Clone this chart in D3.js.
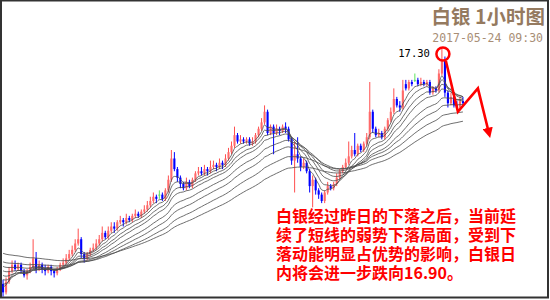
<!DOCTYPE html>
<html>
<head>
<meta charset="utf-8">
<script src="https://cdn.jsdelivr.net/npm/d3@7"></script>
<style>
  body { margin: 0; background: #fff; }
  svg { display: block; }
</style>
</head>
<body>
<svg id="chart"></svg>
<script>
const width = 550
const height = 300

// hourly silver bars, [open, high, low, close]
const bars = [
  [16.19,16.21,16.13,16.15],[16.15,16.22,16.14,16.20],[16.20,16.27,16.19,16.25],[16.25,16.30,16.24,16.28],
  [16.28,16.30,16.25,16.26],[16.26,16.29,16.25,16.28],[16.28,16.29,16.24,16.25],[16.25,16.26,16.22,16.23],
  [16.23,16.26,16.21,16.25],[16.25,16.29,16.24,16.27],[16.27,16.40,16.26,16.31],[16.31,16.34,16.24,16.26],
  [16.26,16.30,16.25,16.28],[16.28,16.29,16.24,16.26],[16.26,16.28,16.23,16.25],[16.25,16.28,16.24,16.27],
  [16.27,16.28,16.23,16.25],[16.25,16.26,16.22,16.24],[16.24,16.27,16.23,16.26],[16.26,16.29,16.25,16.28],
  [16.28,16.31,16.27,16.29],[16.29,16.33,16.28,16.31],[16.31,16.35,16.30,16.33],[16.33,16.37,16.32,16.35],
  [16.35,16.40,16.34,16.38],[16.38,16.45,16.37,16.40],[16.40,16.41,16.31,16.33],[16.33,16.34,16.29,16.31],
  [16.31,16.34,16.30,16.33],[16.33,16.36,16.32,16.35],[16.35,16.38,16.34,16.36],[16.36,16.40,16.35,16.38],
  [16.38,16.42,16.37,16.40],[16.40,16.46,16.39,16.43],[16.43,16.44,16.40,16.41],[16.41,16.46,16.40,16.44],
  [16.44,16.48,16.43,16.46],[16.46,16.48,16.43,16.45],[16.45,16.49,16.44,16.48],[16.48,16.51,16.47,16.49],
  [16.49,16.50,16.46,16.48],[16.48,16.52,16.47,16.50],[16.50,16.51,16.48,16.49],[16.49,16.52,16.48,16.51],
  [16.51,16.54,16.50,16.52],[16.52,16.53,16.50,16.51],[16.51,16.54,16.50,16.53],[16.53,16.56,16.52,16.54],
  [16.54,16.58,16.53,16.56],[16.56,16.60,16.55,16.58],[16.58,16.62,16.57,16.60],[16.60,16.61,16.57,16.59],
  [16.61,16.63,16.59,16.61],[16.61,16.62,16.58,16.59],[16.59,16.64,16.58,16.63],[16.63,16.70,16.62,16.68],
  [16.68,16.82,16.67,16.78],[16.78,16.81,16.72,16.73],[16.73,16.74,16.67,16.69],[16.69,16.70,16.64,16.66],
  [16.66,16.67,16.63,16.64],[16.64,16.69,16.63,16.67],[16.67,16.68,16.64,16.65],[16.65,16.69,16.64,16.68],
  [16.68,16.72,16.67,16.71],[16.71,16.74,16.70,16.72],[16.72,16.74,16.70,16.71],[16.71,16.75,16.70,16.73],
  [16.73,16.74,16.70,16.72],[16.72,16.77,16.71,16.74],[16.74,16.77,16.73,16.75],[16.75,16.76,16.72,16.74],
  [16.74,16.78,16.73,16.76],[16.76,16.77,16.73,16.75],[16.75,16.80,16.74,16.78],[16.78,16.83,16.77,16.81],
  [16.81,16.86,16.80,16.84],[16.84,16.93,16.83,16.89],[16.89,16.90,16.85,16.86],[16.86,16.89,16.85,16.87],
  [16.87,16.88,16.85,16.86],[16.86,16.88,16.85,16.87],[16.87,16.88,16.84,16.85],[16.85,16.88,16.84,16.86],
  [16.86,16.90,16.85,16.89],[16.89,16.93,16.88,16.92],[16.92,16.97,16.91,16.95],[16.95,17.03,16.94,17.00],
  [17.00,17.01,16.89,16.90],[16.90,16.94,16.89,16.93],[16.93,16.94,16.80,16.90],[16.90,16.94,16.89,16.92],
  [16.92,16.93,16.89,16.91],[16.91,16.94,16.90,16.93],[16.93,16.95,16.90,16.92],[16.92,16.93,16.86,16.87],
  [16.87,16.88,16.75,16.77],[16.77,16.86,16.62,16.80],[16.80,16.88,16.76,16.78],[16.78,16.79,16.72,16.74],
  [16.74,16.78,16.73,16.76],[16.76,16.77,16.71,16.72],[16.72,16.73,16.62,16.65],[16.65,16.70,16.55,16.68],
  [16.68,16.69,16.61,16.63],[16.63,16.64,16.59,16.61],[16.61,16.62,16.57,16.58],[16.58,16.63,16.57,16.62],
  [16.62,16.67,16.61,16.65],[16.65,16.66,16.63,16.64],[16.64,16.67,16.63,16.66],[16.66,16.71,16.65,16.69],
  [16.69,16.73,16.68,16.72],[16.72,16.75,16.71,16.74],[16.74,16.78,16.73,16.76],[16.76,16.86,16.75,16.79],
  [16.79,16.84,16.78,16.82],[16.82,16.90,16.79,16.80],[16.80,16.85,16.79,16.84],[16.84,16.85,16.81,16.82],
  [16.82,16.86,16.81,16.85],[16.85,16.90,16.84,16.88],[16.88,17.14,16.87,17.00],[17.00,17.01,16.90,16.92],
  [16.92,16.93,16.88,16.89],[16.89,16.92,16.88,16.90],[16.90,16.91,16.87,16.88],[16.88,16.93,16.87,16.92],
  [16.92,16.97,16.91,16.96],[16.96,17.02,16.95,17.00],[17.00,17.11,16.99,17.06],[17.06,17.07,17.02,17.03],
  [17.03,17.05,17.00,17.02],[17.02,17.15,17.01,17.10],[17.13,17.15,17.10,17.11],[17.11,17.15,17.10,17.14],
  [17.14,17.15,17.12,17.13],[17.15,17.18,17.14,17.15],[17.15,17.16,17.12,17.13],[17.13,17.16,17.12,17.14],
  [17.14,17.15,17.12,17.13],[17.13,17.15,17.12,17.14],[17.14,17.15,17.08,17.09],[17.09,17.12,17.08,17.11],
  [17.11,17.12,17.09,17.10],[17.10,17.20,17.09,17.18],[17.18,17.30,17.17,17.24],[17.24,17.26,17.07,17.09],
  [17.09,17.10,17.02,17.04],[17.04,17.09,17.03,17.07],[17.07,17.08,17.02,17.03],[17.03,17.05,17.01,17.02],
  [17.02,17.07,17.01,17.05],[17.05,17.07,17.03,17.04]
]

// moving average ribbon: periods and their value at the left edge
const maPeriods = [5, 8, 12, 16, 24, 32, 44, 60]
const maSeeds = [16.19, 16.20, 16.22, 16.24, 16.26, 16.28, 16.30, 16.34]

// projected path after the peak: low, rebound, target
const pathPrices = [17.00, 17.11, 16.90]

const title = '白银 1小时图'
const stamp = '2017-05-24 09:30'
const peakLabel = '17.30'
const peakPrice = 17.30
const note = [
  '白银经过昨日的下落之后，当前延',
  '续了短线的弱势下落局面，受到下',
  '落动能明显占优势的影响，白银日',
  '内将会进一步跌向16.90。'
]

const svg = d3.select('#chart')
  .attr('width', width)
  .attr('height', height)

const x = d3.scaleBand()
  .domain(d3.range(bars.length))
  .range([2, 464])
  .paddingInner(0.3)

const y = d3.scaleLinear()
  .domain([16.114, 17.526])
  .range([300, 0])

const cx = i => x(i) + x.bandwidth() / 2

// candles
const candle = svg.append('g').selectAll('g')
  .data(bars)
  .join('g')
  .attr('stroke', d => d[3] > d[0] ? '#ff4f4f' : d[3] < d[0] ? '#0000ff' : '#5ee65e')
  .attr('fill', d => d[3] > d[0] ? '#ff6a6a' : d[3] < d[0] ? '#0000ff' : '#5ee65e')

candle.append('line')
  .attr('x1', (d, i) => cx(i))
  .attr('x2', (d, i) => cx(i))
  .attr('y1', d => y(d[1]))
  .attr('y2', d => y(d[2]))
  .attr('stroke-width', 1)

candle.append('rect')
  .attr('x', (d, i) => x(i))
  .attr('width', x.bandwidth())
  .attr('y', d => y(Math.max(d[0], d[3])))
  .attr('height', d => Math.max(1, Math.abs(y(d[0]) - y(d[3]))))
  .attr('stroke', 'none')

// exponential averages of the closes
const closes = bars.map(d => d[3])
const ribbons = maPeriods.map((p, k) => {
  const a = 2 / (p + 1)
  let v = maSeeds[k]
  return closes.map(c => (v = v + a * (c - v)))
})

const line = d3.line()
  .x((d, i) => cx(i))
  .y(d => y(d))
  .curve(d3.curveMonotoneX)

svg.append('g').selectAll('path')
  .data(ribbons)
  .join('path')
  .attr('d', line)
  .attr('fill', 'none')
  .attr('stroke', '#4a4a4a')
  .attr('stroke-width', 0.8)

// peak marker and projected path
const peakIdx = d3.maxIndex(bars, d => d[1])
const px = cx(peakIdx)

svg.append('circle')
  .attr('cx', px + 1)
  .attr('cy', y(peakPrice) + 6)
  .attr('r', 6.5)
  .attr('fill', 'none')
  .attr('stroke', '#ff0000')
  .attr('stroke-width', 2.5)

svg.append('text')
  .attr('x', px - 12)
  .attr('y', y(peakPrice) + 9)
  .attr('text-anchor', 'end')
  .attr('font-family', 'DejaVu Sans Mono')
  .attr('font-size', 10.5)
  .attr('fill', '#000')
  .text(peakLabel)

svg.append('defs').append('marker')
  .attr('id', 'head')
  .attr('viewBox', '0 0 10 10')
  .attr('refX', 5).attr('refY', 5)
  .attr('markerWidth', 4).attr('markerHeight', 4)
  .attr('orient', 'auto')
  .append('path')
  .attr('d', 'M0,0L10,5L0,10z')
  .attr('fill', '#ff0000')

const steps = [px + 16, px + 36, px + 47]
svg.append('path')
  .attr('d', `M${px + 4},${y(peakPrice) + 13}` + pathPrices.map((p, i) => `L${steps[i]},${y(p)}`).join(''))
  .attr('fill', 'none')
  .attr('stroke', '#ff0000')
  .attr('stroke-width', 2.6)
  .attr('stroke-linejoin', 'miter')
  .attr('marker-end', 'url(#head)')

// headings
svg.append('text')
  .attr('x', 545).attr('y', 24)
  .attr('text-anchor', 'end')
  .attr('font-family', 'Noto Sans CJK SC')
  .attr('font-weight', 'bold')
  .attr('font-size', 19.5)
  .attr('fill', '#957a5f')
  .text(title)

svg.append('text')
  .attr('x', 543).attr('y', 42)
  .attr('text-anchor', 'end')
  .attr('font-family', 'DejaVu Sans Mono')
  .attr('font-size', 11.5)
  .attr('fill', '#a88e76')
  .text(stamp)

// commentary block, one text with a line per tspan
svg.append('text')
  .attr('y', 222)
  .attr('font-family', 'Noto Sans CJK SC')
  .attr('font-weight', 'bold')
  .attr('font-size', 16)
  .attr('fill', '#ff0000')
  .selectAll('tspan')
  .data(note)
  .join('tspan')
  .attr('x', 276)
  .attr('dy', (d, i) => i ? 19 : 0)
  .text(d => d)

// frame
svg.append('rect')
  .attr('x', 1).attr('y', 0.5)
  .attr('width', 547).attr('height', 297)
  .attr('fill', 'none')
  .attr('stroke', '#333')
  .attr('stroke-width', 2)
</script>
</body>
</html>
